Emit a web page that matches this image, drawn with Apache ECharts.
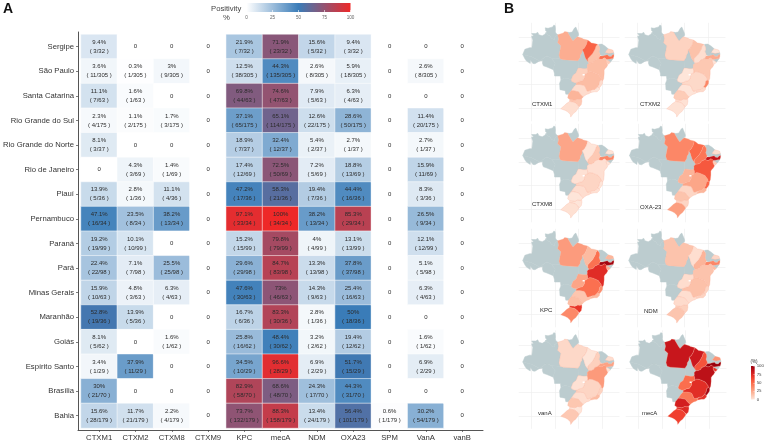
<!DOCTYPE html>
<html><head><meta charset="utf-8">
<style>html,body{margin:0;padding:0;background:#fff;overflow:hidden}#c{width:767px;height:442px}</style>
<script src="https://cdn.jsdelivr.net/npm/echarts@6/dist/echarts.min.js"></script>
</head><body><div id="c"></div>
<script>
const states = ['Sergipe','São Paulo','Santa Catarina','Rio Grande do Sul','Rio Grande do Norte','Rio de Janeiro','Piauí','Pernambuco','Paraná','Pará','Minas Gerais','Maranhão','Goiás','Espírito Santo','Brasília','Bahia'];
const genes = ['CTXM1','CTXM2','CTXM8','CTXM9','KPC','mecA','NDM','OXA23','SPM','VanA','vanB'];
const totals = [32,305,63,175,37,69,36,34,99,98,63,36,62,29,70,179];
const pctCTXM1 = [9.4,3.6,11.1,2.3,8.1,0,13.9,47.1,19.2,22.4,15.9,52.8,8.1,3.4,30,15.6];
const numCTXM1 = [3,11,7,4,3,0,5,16,19,22,10,19,5,1,21,28];
const pctCTXM2 = [0,0.3,1.6,1.1,0,4.3,2.8,23.5,10.1,7.1,4.8,13.9,0,37.9,0,11.7];
const numCTXM2 = [0,1,1,2,0,3,1,8,10,7,3,5,0,11,0,21];
const pctCTXM8 = [0,3,0,1.7,0,1.4,11.1,38.2,0,25.5,6.3,0,1.6,0,0,2.2];
const numCTXM8 = [0,9,0,3,0,1,4,13,0,25,4,0,1,0,0,4];
const pctCTXM9 = [0,0,0,0,0,0,0,0,0,0,0,0,0,0,0,0];
const numCTXM9 = [0,0,0,0,0,0,0,0,0,0,0,0,0,0,0,0];
const pctKPC = [21.9,12.5,69.8,37.1,18.9,17.4,47.2,97.1,15.2,29.6,47.6,16.7,25.8,34.5,82.9,73.7];
const numKPC = [7,38,44,65,7,12,17,33,15,29,30,6,16,10,58,132];
const pctMecA = [71.9,44.3,74.6,65.1,32.4,72.5,58.3,100,79.8,84.7,73,83.3,48.4,96.6,68.6,88.3];
const numMecA = [23,135,47,114,12,50,21,34,79,83,46,30,30,28,48,158];
const pctNDM = [15.6,2.6,7.9,12.6,5.4,7.2,19.4,38.2,4,13.3,14.3,2.8,3.2,6.9,24.3,13.4];
const numNDM = [5,8,5,22,2,5,7,13,4,13,9,1,2,2,17,24];
const pctOXA23 = [9.4,5.9,6.3,28.6,2.7,18.8,44.4,85.3,13.1,37.8,25.4,50,19.4,51.7,44.3,56.4];
const numOXA23 = [3,18,4,50,1,13,16,29,13,37,16,18,12,15,31,101];
const pctSPM = [0,0,0,0,0,0,0,0,0,0,0,0,0,0,0,0.6];
const numSPM = [0,0,0,0,0,0,0,0,0,0,0,0,0,0,0,1];
const pctVanA = [0,2.6,0,11.4,2.7,15.9,8.3,26.5,12.1,5.1,6.3,0,1.6,6.9,0,30.2];
const numVanA = [0,8,0,20,1,11,3,9,12,5,4,0,1,2,0,54];
const pctVanB = [0,0,0,0,0,0,0,0,0,0,0,0,0,0,0,0];
const numVanB = [0,0,0,0,0,0,0,0,0,0,0,0,0,0,0,0];

// Simplified state outlines, [lon, lat]
const shapes = {
 'Acre':[[-73.8,-7.2],[-72.9,-9],[-72.2,-10],[-70.6,-11],[-70.5,-9.5],[-69.5,-11],[-68.6,-11.1],[-66.6,-9.9],[-70,-8.2]],
 'Amazonas':[[-69.9,-4.3],[-69.5,-1.1],[-69.9,0],[-70,0.5],[-69.2,0.6],[-69.2,1],[-70,1.7],[-68.2,1.7],[-67.4,2.2],[-66.9,1.2],[-65.5,0.7],[-64.2,1.5],[-64,2],[-63.3,1.3],[-62.2,0.6],[-61.5,-0.4],[-60.4,-0.8],[-60.1,0.2],[-58.9,1.2],[-58.5,-0.5],[-58.9,-2.2],[-57.5,-3.5],[-58,-6],[-58.3,-7.5],[-57.8,-9],[-61.5,-8.8],[-62.9,-8],[-64,-8],[-66.6,-9.9],[-70,-8.2],[-73.8,-7.2],[-72.9,-5],[-70.9,-4.3]],
 'Roraima':[[-64,2],[-63.4,2.4],[-64,2.8],[-64.2,4.1],[-63,3.9],[-62.7,4],[-61,4.5],[-60.6,5.2],[-60,5.1],[-59.9,4.4],[-59.6,4],[-59.8,3.4],[-59.9,2.6],[-59.7,1.9],[-58.9,1.2],[-60.1,0.2],[-60.4,-0.8],[-61.5,-0.4],[-62.2,0.6],[-63.3,1.3]],
 'Amapá':[[-54.7,2.3],[-54,2.1],[-52.7,2.3],[-51.7,4],[-51.1,4.4],[-50,1.8],[-49.9,1],[-50.6,0.2],[-51.1,-0.2],[-52.3,-1.5],[-53,-0.5]],
 'Rondônia':[[-61.5,-8.8],[-59.9,-11],[-60.4,-12],[-60.7,-13.7],[-62,-13.1],[-63.5,-12.5],[-65,-12],[-65.4,-10.9],[-65.3,-9.8],[-66.6,-9.9],[-64,-8],[-62.9,-8]],
 'Mato Grosso':[[-50.2,-9.8],[-50.1,-12.9],[-50.6,-14],[-51,-15],[-52.3,-16],[-53.1,-18],[-54,-17.5],[-56,-17.2],[-57.5,-18],[-57.7,-16.3],[-58.4,-16.3],[-60.2,-16.3],[-60.3,-15.1],[-60.7,-13.7],[-60.4,-12],[-59.9,-11],[-61.5,-8.8],[-57.8,-9],[-56.5,-9.4]],
 'Mato Grosso do Sul':[[-53.1,-22.6],[-54.3,-24],[-55.4,-24],[-55.7,-22.5],[-57.9,-22.1],[-58,-20.2],[-58.1,-19.5],[-57.5,-18],[-56,-17.2],[-54,-17.5],[-53.1,-18],[-52.8,-18.6],[-51.5,-19.2],[-50.9,-19.1],[-51,-19.9],[-52,-21]],
 'Tocantins':[[-48.4,-5.2],[-47.7,-6.5],[-47.5,-7.3],[-47,-8.8],[-46,-10.2],[-45.5,-10.9],[-46.3,-11.6],[-46.2,-12.5],[-46.3,-13],[-47,-13.2],[-48,-13.2],[-49,-13],[-50.1,-12.9],[-50.2,-9.8],[-49.3,-8.5],[-49.2,-7.5],[-48.5,-6.5]],
 'Ceará':[[-41.4,-2.9],[-40,-2.8],[-38.5,-3.7],[-37.3,-4.8],[-38,-5.6],[-38.5,-6.3],[-38.7,-7],[-38.9,-7.6],[-39.5,-7.8],[-40.6,-7.4],[-41.2,-6],[-40.9,-5],[-41,-4],[-41.4,-3.1]],
 'Paraíba':[[-34.95,-6.4],[-34.8,-7.15],[-35.5,-7.4],[-36,-8],[-37,-7.9],[-37.6,-7.3],[-38.9,-7.6],[-38.7,-7],[-38.5,-6.3],[-37.2,-6.5],[-36.9,-6.8],[-36,-6.6]],
 'Alagoas':[[-35.15,-8.9],[-35.6,-9.5],[-36.4,-10.5],[-37,-10],[-37.9,-9.5],[-38,-9.3],[-37,-9.2],[-36,-9]],
 'Sergipe':[[-36.4,-10.5],[-37,-11.2],[-37.4,-11.5],[-37.9,-10.8],[-38.2,-10],[-37.9,-9.5],[-37,-10]],
 'São Paulo':[[-44.7,-23.3],[-45.5,-23.8],[-46.5,-24.1],[-47.5,-24.8],[-48,-25.2],[-48.5,-24.7],[-49.3,-23.9],[-50,-23],[-51,-22.8],[-52.1,-22.5],[-53.1,-22.6],[-52,-21],[-51,-19.9],[-49.5,-19.9],[-48.9,-20],[-47.8,-20.2],[-47.3,-20.5],[-46.9,-21.3],[-46.6,-22],[-46.3,-22.7],[-45.7,-22.7],[-44.8,-22.4],[-44.8,-22.8]],
 'Santa Catarina':[[-48.6,-25.9],[-48.5,-27],[-48.8,-28.5],[-49.7,-29.3],[-50,-29.3],[-50.3,-28.6],[-51.5,-27.6],[-52.7,-27.3],[-53.8,-27.1],[-53.7,-26.3],[-52.8,-26.4],[-51.5,-26.6],[-50.3,-26],[-49.3,-26.2]],
 'Rio Grande do Sul':[[-49.7,-29.3],[-50.3,-30.3],[-51.2,-31.5],[-52.2,-32.2],[-53.3,-33.7],[-53.4,-33],[-53.5,-32.5],[-54.6,-31.5],[-55.6,-30.9],[-56,-30.8],[-57.6,-30.2],[-56,-28.8],[-55,-27.9],[-53.8,-27.1],[-52.7,-27.3],[-51.5,-27.6],[-50.3,-28.6],[-50,-29.3]],
 'Rio Grande do Norte':[[-37.3,-4.8],[-36,-5.1],[-35.2,-5.4],[-34.95,-6.4],[-36,-6.6],[-36.9,-6.8],[-37.2,-6.5],[-38.5,-6.3],[-38,-5.6]],
 'Rio de Janeiro':[[-41,-21.3],[-41,-22],[-42,-23],[-43.2,-23],[-44.7,-23.3],[-44.8,-22.8],[-44.8,-22.4],[-44,-22.1],[-43,-22],[-42.3,-21.3],[-41.8,-20.9]],
 'Piauí':[[-41.8,-2.9],[-41.4,-2.9],[-41.4,-3.1],[-41,-4],[-40.9,-5],[-41.2,-6],[-40.6,-7.4],[-40.7,-7.8],[-41,-8.4],[-41.5,-8.9],[-42.3,-9.3],[-43,-9.5],[-43.5,-10.4],[-44.5,-10.8],[-45.5,-10.9],[-46,-10.2],[-46,-9],[-45,-7.9],[-44,-6.9],[-43.5,-6],[-42.8,-4.8],[-42.5,-3.7]],
 'Pernambuco':[[-34.8,-7.15],[-34.85,-8],[-35.15,-8.9],[-36,-9],[-37,-9.2],[-38,-9.3],[-38.3,-8.9],[-39,-8.6],[-39.8,-9.2],[-40.4,-9.3],[-40.9,-9.1],[-41.5,-8.9],[-41,-8.4],[-40.7,-7.8],[-40.6,-7.4],[-39.5,-7.8],[-38.9,-7.6],[-37.6,-7.3],[-37,-7.9],[-36,-8],[-35.5,-7.4]],
 'Paraná':[[-48,-25.2],[-48.6,-25.9],[-49.3,-26.2],[-50.3,-26],[-51.5,-26.6],[-52.8,-26.4],[-53.7,-26.3],[-54.6,-25.6],[-54.3,-24],[-53.1,-22.6],[-52.1,-22.5],[-51,-22.8],[-50,-23],[-49.3,-23.9],[-48.5,-24.7]],
 'Pará':[[-58.9,1.2],[-56.5,1.9],[-55.9,2.5],[-54.7,2.3],[-53,-0.5],[-52.3,-1.5],[-51.1,-0.2],[-50.4,0.3],[-48.4,-0.3],[-47.9,-0.6],[-46.1,-1.1],[-46.3,-2],[-46.6,-3],[-47.5,-4.5],[-48.4,-5.2],[-48.5,-6.5],[-49.2,-7.5],[-49.3,-8.5],[-50.2,-9.8],[-56.5,-9.4],[-57.8,-9],[-58.3,-7.5],[-58,-6],[-57.5,-3.5],[-58.9,-2.2],[-58.5,-0.5]],
 'Minas Gerais':[[-40.2,-18],[-40.3,-17.3],[-40.9,-16.5],[-41.5,-15.7],[-42.5,-15.2],[-44,-14.6],[-44.2,-14.3],[-45.2,-14.4],[-46,-14.9],[-47,-15.3],[-47.4,-16],[-47.4,-16.8],[-47.6,-17.3],[-48.3,-18.3],[-49.5,-18.5],[-50.4,-19],[-50.9,-19.1],[-51,-19.9],[-49.5,-19.9],[-48.9,-20],[-47.8,-20.2],[-47.3,-20.5],[-46.9,-21.3],[-46.6,-22],[-46.3,-22.7],[-45.7,-22.7],[-44.8,-22.4],[-44,-22.1],[-43,-22],[-42.3,-21.3],[-41.8,-20.9],[-41.2,-20],[-41,-19.2],[-40.9,-18.5]],
 'Maranhão':[[-46.1,-1.1],[-45.3,-1.6],[-44.4,-2.3],[-43.5,-2.4],[-41.8,-2.9],[-42.5,-3.7],[-42.8,-4.8],[-43.5,-6],[-44,-6.9],[-45,-7.9],[-46,-9],[-46,-10.2],[-47,-8.8],[-47.5,-7.3],[-47.7,-6.5],[-48.4,-5.2],[-47.5,-4.5],[-46.6,-3],[-46.3,-2]],
 'Goiás':[[-50.9,-19.1],[-50.4,-19],[-49.5,-18.5],[-48.3,-18.3],[-47.6,-17.3],[-47.4,-16.8],[-47.4,-16],[-47,-15.3],[-46,-14.9],[-46,-14],[-46.3,-13],[-47,-13.2],[-48,-13.2],[-49,-13],[-50.1,-12.9],[-50.6,-14],[-51,-15],[-52.3,-16],[-53.1,-18],[-52.8,-18.6],[-51.5,-19.2]],
 'Espírito Santo':[[-39.6,-18.3],[-39.7,-19.5],[-40.2,-20.3],[-41,-21.3],[-41.8,-20.9],[-41.2,-20],[-41,-19.2],[-40.9,-18.5],[-40.2,-18]],
 'Bahia':[[-38,-9.3],[-37.9,-9.5],[-38.2,-10],[-37.9,-10.8],[-37.4,-11.5],[-38,-12.6],[-38.5,-13],[-39,-13.8],[-39,-15.5],[-39.2,-17.5],[-39.6,-18.3],[-40.2,-18],[-40.3,-17.3],[-40.9,-16.5],[-41.5,-15.7],[-42.5,-15.2],[-44,-14.6],[-44.2,-14.3],[-45.2,-14.4],[-46,-14.9],[-46,-14],[-46.3,-13],[-46.2,-12.5],[-46.3,-11.6],[-45.5,-10.9],[-44.5,-10.8],[-43.5,-10.4],[-43,-9.5],[-42.3,-9.3],[-41.5,-8.9],[-40.9,-9.1],[-40.4,-9.3],[-39.8,-9.2],[-39,-8.6],[-38.3,-8.9]],
 'DF':[[-48.2,-15.5],[-47.3,-15.5],[-47.4,-16.05],[-48.2,-16.05]]
};
const gridLons = [-70,-60,-50,-40];
const gridLats = [0,-10,-20,-30];
const mapPanels = ['CTXM1','CTXM2','CTXM8','OXA23','KPC','NDM','VanA','mecA'];
const panelLabels = ['CTXM1','CTXM2','CTXM8','OXA-23','KPC','NDM','vanA','mecA'];

const pct = {CTXM1:pctCTXM1,CTXM2:pctCTXM2,CTXM8:pctCTXM8,CTXM9:pctCTXM9,KPC:pctKPC,mecA:pctMecA,NDM:pctNDM,OXA23:pctOXA23,SPM:pctSPM,VanA:pctVanA,vanB:pctVanB};
const num = {CTXM1:numCTXM1,CTXM2:numCTXM2,CTXM8:numCTXM8,CTXM9:numCTXM9,KPC:numKPC,mecA:numMecA,NDM:numNDM,OXA23:numOXA23,SPM:numSPM,VanA:numVanA,vanB:numVanB};
echarts.registerMap('brazil',{type:'FeatureCollection',features:Object.keys(shapes).map(n=>({type:'Feature',properties:{name:n},geometry:{type:'Polygon',coordinates:[shapes[n].concat([shapes[n][0]])]}}))});

const FONT='"Liberation Sans", Arial, sans-serif';
const heat=[];
genes.forEach((g,gi)=>states.forEach((s,si)=>heat.push({value:[gi,si,pct[g][si]],counts:num[g][si],total:totals[si]})));

const chart=echarts.init(document.getElementById('c'),null,{renderer:'canvas'});
const panelBox=[[522.3,25],[628.3,25],[522.3,126],[629,126],[522.3,231],[628.3,231],[522.3,332.5],[629.3,332.5]];
const labelPos=[[532,104],[640,104],[532,204],[640,207],[540,310],[644,311],[538,413],[642,413]];
const grayNames=['Acre','Amazonas','Roraima','Amapá','Rondônia','Mato Grosso','Mato Grosso do Sul','Tocantins','Ceará','Paraíba','Alagoas'];
const GRAY='#bccccf';
const geos=panelBox.map(b=>({map:'brazil',aspectScale:1,roam:false,silent:true,z:3,
  boundingCoords:[[-74,5.3],[-34.8,-33.8]],left:b[0],top:b[1],width:91.7,height:92.3,
  label:{show:false},
  itemStyle:{areaColor:GRAY,borderColor:'rgba(252,175,150,0.75)',borderWidth:0.35},
  emphasis:{disabled:true},
  regions:grayNames.map(n=>({name:n,itemStyle:{areaColor:GRAY,borderColor:GRAY,borderWidth:0.5}})).concat([{name:'DF',itemStyle:{areaColor:'#fff',borderWidth:0}}])
}));
const mapSeries=mapPanels.map((g,i)=>({type:'map',geoIndex:i,silent:true,
  data:states.filter(s=>s!=='Brasília').map(s=>({name:s,value:pct[g][states.indexOf(s)]}))}));
const lineSeries=mapPanels.map((g,i)=>({type:'lines',coordinateSystem:'geo',geoIndex:i,silent:true,z:1,polyline:false,
  lineStyle:{color:'#ececec',width:0.6,opacity:1},effect:{show:false},
  data:gridLons.map(x=>({coords:[[x,6.2],[x,-35.5]]})).concat(gridLats.map(y=>({coords:[[-75.5,y],[-32.5,y]]})))}));
const gradStops=[{offset:0,color:'#ffffff'},{offset:0.5,color:'#3a7cb8'},{offset:1,color:'#ee2828'}];
const redStops=[{offset:0,color:'#99000d'},{offset:0.17,color:'#cb181d'},{offset:0.33,color:'#ef3b2c'},{offset:0.5,color:'#fb6a4a'},{offset:0.67,color:'#fc9272'},{offset:0.83,color:'#fcbba1'},{offset:1,color:'#fee5d9'}];
const txt=(t,x,y,size,fill,weight)=>({type:'text',left:x,top:y,style:{text:t,fontSize:size,fontWeight:weight||'normal',fontFamily:FONT,fill:fill}});

chart.setOption({
 animation:false,backgroundColor:'#fff',textStyle:{fontFamily:FONT},
 grid:[
  {left:81,top:34.4,width:399.3,height:393.6},
  {left:78,top:32,width:405,height:398},
  {left:246.5,top:3,width:104,height:9},
  {left:751,top:366,width:6.3,height:33.5}
 ],
 xAxis:[
  {type:'category',gridIndex:0,data:genes,offset:2,axisLine:{show:false},
   axisTick:{show:true,alignWithLabel:true,length:2,lineStyle:{color:'#444',width:0.7}},
   axisLabel:{fontSize:7.7,color:'#333',margin:3.5,fontFamily:FONT,interval:0},splitLine:{show:false}},
  {type:'value',gridIndex:1,min:0,max:1,interval:1,axisLine:{show:true,onZero:false,lineStyle:{color:'#555',width:1}},axisTick:{show:false},axisLabel:{show:false},splitLine:{show:false}},
  {type:'value',gridIndex:2,min:0,max:100,interval:25,z:5,axisLine:{show:false},
   axisTick:{show:true,inside:true,length:2,lineStyle:{color:'#fff',width:0.6}},
   axisLabel:{fontSize:4.6,color:'#666',margin:3.5,fontFamily:FONT},splitLine:{show:false}},
  {type:'category',gridIndex:3,data:[''],show:false}
 ],
 yAxis:[
  {type:'category',gridIndex:0,data:states,inverse:true,offset:3,axisLine:{show:false},
   axisTick:{show:true,alignWithLabel:true,length:2,lineStyle:{color:'#444',width:0.7}},
   axisLabel:{fontSize:7.7,color:'#333',margin:4,fontFamily:FONT,interval:0},splitLine:{show:false}},
  {type:'value',gridIndex:1,min:0,max:1,interval:1,axisLine:{show:true,onZero:false,lineStyle:{color:'#555',width:1}},axisTick:{show:false},axisLabel:{show:false},splitLine:{show:false}},
  {type:'category',gridIndex:2,data:[''],show:false},
  {type:'value',gridIndex:3,position:'right',min:0,max:100,interval:25,z:5,axisLine:{show:false},
   axisTick:{show:true,inside:true,length:1.2,lineStyle:{color:'#fff',width:0.5}},
   axisLabel:{fontSize:4.4,color:'#444',margin:2,fontFamily:FONT},splitLine:{show:false}}
 ],
 visualMap:[
  {show:false,type:'continuous',seriesIndex:0,dimension:2,min:0,max:100,inRange:{color:['#ffffff','#3a7cb8','#ee2828']}},
  {show:false,type:'continuous',seriesIndex:[3,4,5,6,7,8,9,10],min:0,max:100,inRange:{color:['#fee5d9','#fcbba1','#fc9272','#fb6a4a','#ef3b2c','#cb181d','#99000d']}}
 ],
 geo:geos,
 series:[
  {type:'heatmap',xAxisIndex:0,yAxisIndex:0,data:heat,silent:true,
   itemStyle:{borderColor:'#fff',borderWidth:0.5},
   label:{show:true,fontSize:6,lineHeight:9,color:'#2b2b2b',textBorderWidth:0,textShadowBlur:0,fontFamily:FONT,
    formatter:p=>p.value[2]===0?'0':p.value[2]+'%\n( '+p.data.counts+'/'+p.data.total+' )'}},
  {type:'bar',xAxisIndex:2,yAxisIndex:2,data:[100],barWidth:'100%',silent:true,
   itemStyle:{color:{type:'linear',x:0,y:0,x2:1,y2:0,colorStops:gradStops}}},
  {type:'bar',xAxisIndex:3,yAxisIndex:3,data:[100],barWidth:'100%',silent:true,
   itemStyle:{color:{type:'linear',x:0,y:0,x2:0,y2:1,colorStops:redStops}}}
 ].concat(mapSeries,lineSeries),
 graphic:[
  txt('A',3,2,14,'#111','bold'),
  txt('B',504,2,14,'#111','bold'),
  txt('Positivity',211,5,7.7,'#444'),
  txt('%',223,14,7.7,'#444'),
  txt('(%)',750.5,359.5,4.6,'#333')
 ].concat(panelLabels.map((t,i)=>txt(t,labelPos[i][0],labelPos[i][1]-3,6,'#2a2a2a')))
});
</script></body></html>
